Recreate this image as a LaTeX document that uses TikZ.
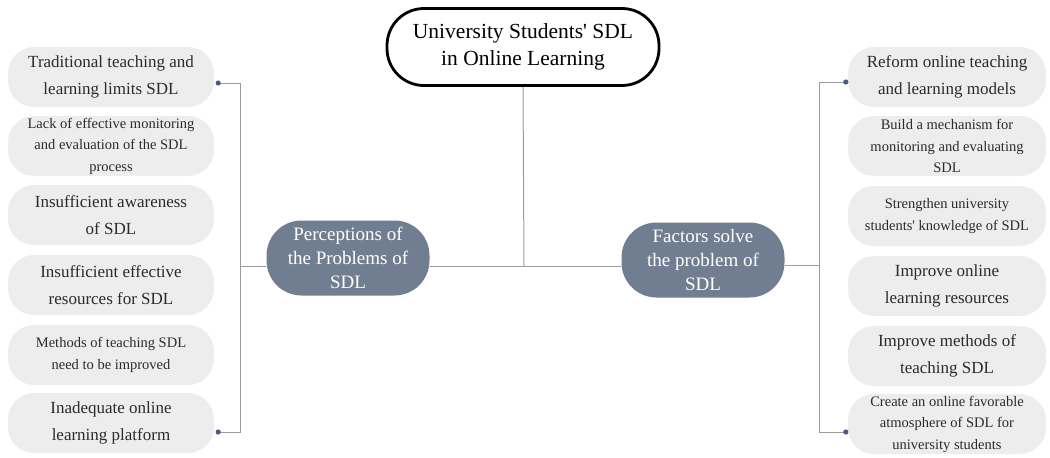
\documentclass[tikz,border=0pt]{standalone}
\usepackage{fontspec}
\setmainfont{Liberation Serif}
\usetikzlibrary{positioning, calc}
\definecolor{smInk}{HTML}{2B2B2B}
\definecolor{smLine}{HTML}{9C9C9C}
\definecolor{smPill}{HTML}{EDEDED}
\definecolor{smHub}{HTML}{717E92}
\definecolor{smDot}{HTML}{4A5A86}
\newcommand{\smbig}{\fontsize{17}{27}\selectfont}
\newcommand{\smsmall}{\fontsize{14.5}{21.5}\selectfont}
\tikzset{
  smroot/.style={
    draw=black, fill=white, line width=2.8pt, rounded corners=37pt,
    minimum width=272pt, minimum height=77pt, inner sep=0pt, align=center,
    font=\fontsize{21.5}{27}\selectfont,
  },
  smhub/.style={
    fill=smHub, text=white, rounded corners=35pt, minimum width=163pt,
    minimum height=75pt, inner sep=0pt, align=center,
    font=\fontsize{19}{24}\selectfont,
  },
  smpill/.style={
    fill=smPill, text=smInk, rounded corners=26pt, minimum width=#1,
    minimum height=60pt, inner sep=0pt, align=center,
  },
  smwire/.style={draw=smLine, line width=1pt},
}

\begin{document}
\begin{tikzpicture}[x=1pt, y=-1pt]
\useasboundingbox (0,0) rectangle (1050,458);

% Centre ------------------------------------------------------------------
\node[smroot] (root) at (523,47) {University Students\textquotesingle\ SDL\\in Online Learning};
\node[smhub] (lhub) at (348,258) {Perceptions of\\the Problems of\\SDL};
\node[smhub] (rhub) at (703,260) {Factors solve\\the problem of\\SDL};

% Left column -------------------------------------------------------------
\foreach \n/\y/\fnt/\txt in {
  1/77/\smbig/{Traditional teaching and\\learning limits SDL},
  2/146/\smsmall/{Lack of effective monitoring\\and evaluation of the SDL\\process},
  3/215/\smbig/{Insufficient awareness\\of SDL},
  4/285/\smbig/{Insufficient effective\\resources for SDL},
  5/355/\smsmall/{Methods of teaching SDL\\need to be improved},
  6/423/\smbig/{Inadequate online\\learning platform}}{%
  \node[smpill=206pt, font=\fnt] (lb\n) at (111,\y) {\txt};
}

% Right column ------------------------------------------------------------
\foreach \n/\y/\fnt/\txt in {
  1/77/\smbig/{Reform online teaching\\and learning models},
  2/146/\smsmall/{Build a mechanism for\\monitoring and evaluating\\SDL},
  3/216/\smsmall/{Strengthen university\\students\textquotesingle\ knowledge of SDL},
  4/286/\smbig/{Improve online\\learning resources},
  5/356/\smbig/{Improve methods of\\teaching SDL},
  6/424/\smsmall/{Create an online favorable\\atmosphere of SDL for\\university students}}{%
  \node[smpill=198pt, font=\fnt] (rb\n) at (947,\y) {\txt};
}

% Wires -------------------------------------------------------------------
\coordinate (junc) at (524,266);
\draw[smwire] (root.south) -- (junc);
\draw[smwire] (lhub.east |- junc) -- (rhub.west |- junc);

\coordinate (lbar) at (240,266);
\coordinate (ltop) at ($(lb1.east)+(4,6)$);
\coordinate (lbot) at ($(lb6.east)+(4,9)$);
\draw[smwire] (ltop) -- (ltop -| lbar) -- (lbot -| lbar) -- (lbot);
\draw[smwire] (lhub.west |- lbar) -- (lbar);

\coordinate (rbar) at (819,265);
\coordinate (rtop) at ($(rb1.west)+(-2,5)$);
\coordinate (rbot) at ($(rb6.west)+(-2,8)$);
\draw[smwire] (rtop) -- (rtop -| rbar) -- (rbot -| rbar) -- (rbot);
\draw[smwire] (rhub.east |- rbar) -- (rbar);

\foreach \d in {ltop, lbot, rtop, rbot}{%
  \fill[smDot] (\d) circle (2.6pt);
}

\end{tikzpicture}
\end{document}
